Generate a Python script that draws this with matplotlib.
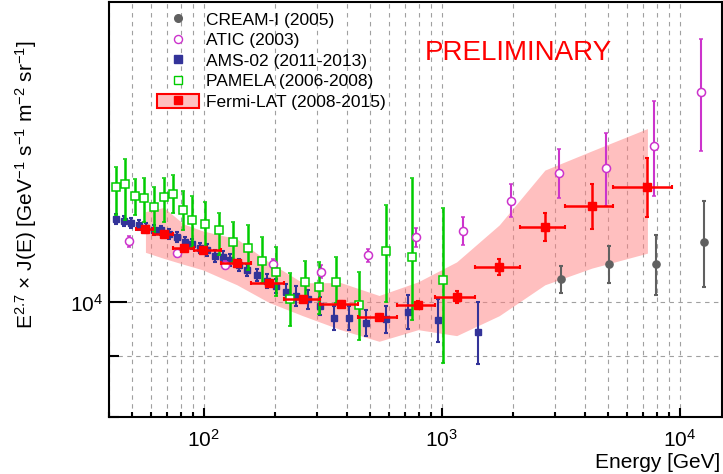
import matplotlib
matplotlib.use("Agg")
import matplotlib.pyplot as plt
import numpy as np
from matplotlib.lines import Line2D
from matplotlib.patches import Patch
from matplotlib.ticker import LogLocator, NullFormatter

plt.rcParams["font.family"] = ["Liberation Sans", "DejaVu Sans"]
plt.rcParams["mathtext.fontset"] = "custom"
plt.rcParams["mathtext.rm"] = "Liberation Sans"
plt.rcParams["mathtext.it"] = "Liberation Sans:italic"
plt.rcParams["mathtext.bf"] = "Liberation Sans:bold"

# AMS-02 (2011-2013)
ams_e = [42.8, 46.1, 49.6, 53.4, 57.3, 61.6, 66.4, 71.7, 77.3, 83.2, 89.6, 96.4,
         103.5, 111.9, 120.3, 129.3, 140.1, 152, 167.4, 184.3, 200.7, 221, 245.3,
         275.5, 309.5, 353.9, 408.3, 481.3, 582.1, 724.1, 962, 1420]
ams_v = [11774, 11734, 11690, 11637, 11558, 11524, 11512, 11424, 11356, 11257,
         11203, 11128, 11079, 10958, 10932, 10869, 10764, 10659, 10556, 10438,
         10332, 10211, 10132, 10059, 9936, 9705, 9701, 9612, 9678, 9820, 9664, 9445]
ams_err = [115, 114, 114, 113, 113, 112, 112, 111, 111, 110, 109, 108,
           130, 128, 128, 127, 126, 125, 124, 143, 141, 159, 197, 196, 174,
           227, 227, 244, 255, 326, 409, 571]

# PAMELA (2006-2008)
pam_e = [42.6, 46.6, 51.3, 56.2, 61.9, 68.0, 74.6, 81.9, 89.6, 100.8, 116, 133.1,
         153.1, 175.6, 201.7, 231.3, 266.9, 306.2, 360.1, 451, 583.9, 750.6, 1010]
pam_v = [12540, 12600, 12315, 12273, 12064, 12303, 12375, 11990, 11751, 11652,
         11530, 11257, 11134, 10836, 10624, 10063, 10418, 10316, 10411, 9956,
         11061, 10938, 10453]
pam_up = [502, 636, 410, 476, 476, 446, 456, 453, 564, 527, 390, 454, 503, 523,
          531, 527, 429, 510, 527, 661, 1046, 1819, 1577]
pam_dn = [674, 849, 449, 562, 578, 592, 469, 466, 596, 606, 555, 424, 475, 450,
          492, 520, 404, 544, 417, 658, 1053, 1284, 1569]

# ATIC (2003)
atic_e = [48.5, 77.3, 122.4, 195.3, 310.6, 492, 780.4, 1232, 1960, 3107, 4926,
          7793, 12333]
atic_v = [11280, 11018, 10750, 10784, 10624, 10975, 11373, 11502, 12206, 12872,
          12997, 13576, 15085]
atic_up = [111, 86, 84, 105, 139, 129, 187, 312, 392, 618, 934, 1246, 1645]
atic_dn = [125, 86, 84, 105, 138, 142, 219, 309, 380, 613, 915, 1261, 1640]

# CREAM-I (2005)
cream_e = [3167, 5036, 7953, 12670]
cream_v = [10473, 10790, 10777, 11264]
cream_up = [276, 385, 635, 938]
cream_dn = [288, 393, 640, 959]

# Fermi-LAT (2008-2015)
fermi_e = [56.9, 67.9, 82.3, 99.0, 137.9, 187.2, 260.5, 376.1, 545.7, 795.5,
           1156, 1745, 2714, 4273, 7320]
fermi_lo = [52.0, 61.1, 74.4, 91.3, 117.7, 157.6, 217.5, 308.6, 443.3, 647.6,
            934.5, 1376, 2125, 3299, 5270]
fermi_hi = [61.1, 74.4, 91.3, 117.7, 157.6, 217.5, 308.6, 443.3, 647.6, 934.5,
            1376, 2125, 3299, 5270, 9320]
fermi_v = [11548, 11440, 11126, 11090, 10800, 10397, 10072, 9965, 9712, 9956,
           10116, 10727, 11598, 12083, 12539]
fermi_err = [56, 56, 54, 54, 63, 61, 59, 58, 57, 78, 119, 168, 314, 531, 730]
band_hi = [11943, 12042, 11660, 11502, 11324, 10826, 10392, 10397, 10137, 10411,
           10826, 11637, 12955, 13451, 14052]
band_lo = [11030, 10901, 10774, 10659, 10351, 10004, 9744, 9481, 9268, 9481,
           9371, 9744, 10351, 10694, 11012]

c_cream = "#606060"
c_atic = "#cc33cc"
c_ams = "#333399"
c_pam = "#00cc00"
c_fermi = "#ff0000"

fig = plt.figure(figsize=(7.23, 4.74), dpi=100)
ax = fig.add_axes([0.1508, 0.1213, 0.8472, 0.8745])
ax.set_xscale("log")
ax.set_yscale("log")
ax.set_xlim(40, 15000)
ax.set_ylim(8000, 18000)

ax.fill_between(fermi_e, band_lo, band_hi, color=(1, 0.5, 0.5), alpha=0.5,
                lw=0, zorder=1)

ax.errorbar(ams_e, ams_v, yerr=ams_err, fmt="s", color=c_ams, ms=5,
            elinewidth=1.5, capsize=1.5, capthick=1.5, zorder=3)
ax.errorbar(cream_e, cream_v, yerr=[cream_dn, cream_up], fmt="o", color=c_cream,
            ms=5.2, elinewidth=1.5, capsize=1.5, capthick=1.5, zorder=3)
ax.errorbar(atic_e, atic_v, yerr=[atic_dn, atic_up], fmt="o", color=c_atic,
            mfc="white", ms=5.8, mew=1.1, elinewidth=1.5, capsize=1.5,
            capthick=1.5, zorder=4)
ax.errorbar(pam_e, pam_v, yerr=[pam_dn, pam_up], fmt="s", color=c_pam,
            mfc="white", ms=5.8, mew=1.1, elinewidth=1.8, capsize=1.5,
            capthick=1.5, zorder=4)
fe = np.array(fermi_e)
ax.errorbar(fermi_e, fermi_v, yerr=fermi_err,
            xerr=[fe - np.array(fermi_lo), np.array(fermi_hi) - fe],
            fmt="s", color=c_fermi, ms=6, elinewidth=1.8, capsize=1.5,
            capthick=1.5, zorder=5)

ax.grid(True, which="both", color="#a0a0a0", ls=(0, (4, 4)), lw=0.8)
ax.set_axisbelow(True)

ax.xaxis.set_major_locator(LogLocator(base=10, numticks=10))
ax.xaxis.set_minor_locator(LogLocator(base=10, subs=np.arange(2, 10), numticks=20))
ax.yaxis.set_major_locator(LogLocator(base=10, numticks=10))
ax.yaxis.set_minor_locator(LogLocator(base=10, subs=np.arange(2, 10), numticks=20))
ax.xaxis.set_minor_formatter(NullFormatter())
ax.yaxis.set_minor_formatter(NullFormatter())

ax.tick_params(which="both", direction="in", top=False, right=False,
               width=1.5, labelsize=15)
ax.tick_params(axis="x", which="major", length=6.5, pad=9)
ax.tick_params(axis="x", which="minor", length=3.8)
ax.tick_params(axis="y", which="major", length=13, pad=4)
ax.tick_params(axis="y", which="minor", length=7)
for s in ax.spines.values():
    s.set_linewidth(1.5)

ax.set_ylabel(r"E$^{2.7}$ $\times$ J(E) [GeV$^{-1}$ s$^{-1}$ m$^{-2}$ sr$^{-1}$]",
              fontsize=15, loc="top")
ax.yaxis.set_label_coords(-0.115, 0.908)
ax.set_xlabel("Energy [GeV]", fontsize=15, loc="right")
ax.xaxis.set_label_coords(0.9976, -0.088)

ax.text(0.516, 0.878, "PRELIMINARY", color="red", fontsize=20,
        transform=ax.transAxes, ha="left", va="center")

handles = [
    Line2D([], [], marker="o", color=c_cream, ls="none", ms=5.5),
    Line2D([], [], marker="o", color=c_atic, mfc="white", ls="none", ms=5.8),
    Line2D([], [], marker="s", color=c_ams, ls="none", ms=5.5),
    Line2D([], [], marker="s", color=c_pam, mfc="white", ls="none", ms=5.8),
    (Patch(facecolor=(1, 0.75, 0.75), edgecolor="red", lw=1.5),
     Line2D([], [], marker="s", color=c_fermi, ls="none", ms=5.5)),
]
labels = ["CREAM-I (2005)", "ATIC (2003)", "AMS-02 (2011-2013)",
          "PAMELA (2006-2008)", "Fermi-LAT (2008-2015)"]
ax.legend(handles, labels, loc="upper left", bbox_to_anchor=(0.0784, 0.976),
          frameon=False, fontsize=12.5, handlelength=2.4, handleheight=0.85,
          handletextpad=0.4, labelspacing=0.26, borderpad=0, borderaxespad=0)

fig.savefig("out.png", dpi=100)
